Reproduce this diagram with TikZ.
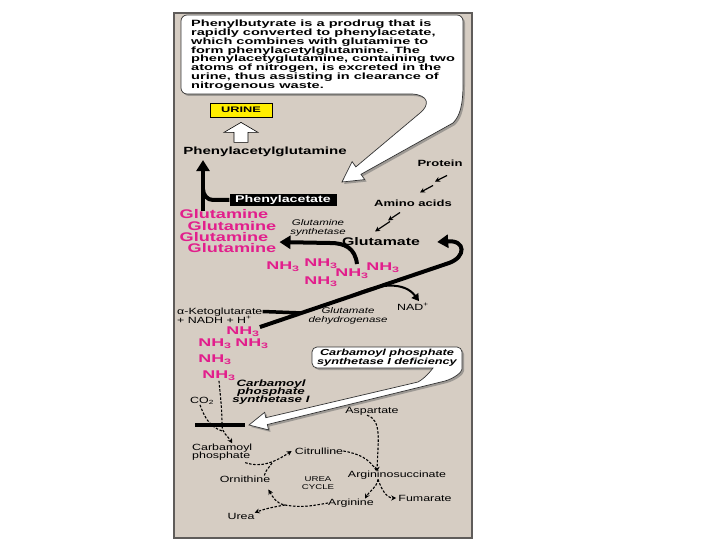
\documentclass[tikz,border=0pt]{standalone}
\usepackage{fontspec}
\setmainfont{Liberation Sans}
\newfontfamily\lippreg{Liberation Sans}[FakeStretch=1.38]
\newfontfamily\lippbold{Liberation Sans}[FakeStretch=1.45]
\newfontfamily\lippwide{Liberation Sans}[FakeStretch=1.6]
\usepackage{tikz}
\usetikzlibrary{
  arrows.meta,
  calc,
  positioning,
  shadows
}
\definecolor{paneltan}{RGB}{214,205,195}
\definecolor{panelline}{RGB}{95,92,90}
\definecolor{nhpink}{RGB}{226,30,140}
\definecolor{urineyellow}{RGB}{255,238,0}
\lineskiplimit=-20pt

\begin{document}
\begin{tikzpicture}[x=1pt, y=-1pt,
  txt/.style={font=\lippreg\fontsize{9}{8.5}\selectfont, inner sep=0pt, align=center},
  itxt/.style={font=\lippreg\itshape\fontsize{8.3}{8.3}\selectfont, inner sep=0pt, align=center},
  btxt/.style={font=\lippbold\bfseries\fontsize{9}{9}\selectfont, inner sep=0pt},
  bitxt/.style={font=\lippbold\bfseries\itshape\fontsize{9.2}{8.2}\selectfont, inner sep=0pt, align=center},
  gln/.style={font=\lippbold\bfseries\fontsize{12.5}{12.5}\selectfont, text=nhpink, inner sep=0pt},
  nh/.style={font=\lippwide\bfseries\fontsize{11.2}{11.2}\selectfont, text=nhpink, inner sep=0pt},
  heavy/.style={line width=4pt, -{Triangle[length=11pt,width=13pt]}},
  heavyline/.style={line width=4pt},
  medarr/.style={line width=2pt, -{Triangle[length=7pt,width=8pt]}},
  smallarr/.style={line width=1.2pt, -{Stealth[length=5pt,width=5pt]}},
  dashedarr/.style={line width=1.1pt, dash pattern=on 2.5pt off 1.6pt, -{Stealth[length=5pt,width=5pt]}},
  dashedline/.style={line width=1.1pt, dash pattern=on 2.5pt off 1.6pt},
  callout/.style={fill=white, draw=black!80, line width=0.7pt,
                  drop shadow={shadow xshift=2pt, shadow yshift=-2pt, opacity=0.5, fill=black!60}}
]

\useasboundingbox (0,0) rectangle (720,540);
\fill[white] (0,0) rectangle (720,540);
\draw[fill=paneltan, draw=panelline, line width=1.4pt] (174,13) rectangle (472,538);

% callout boxes
\draw[callout] (181,50) [rounded corners=6pt] -- (181,15) -- (463,15) -- (463,78) [sharp corners]
  .. controls (463,105) and (460,116) .. (453,123) -- (361,174.3) -- (364.7,179.6) -- (342,182)
  -- (352.1,161.6) -- (355.8,166.9) -- (420,113) .. controls (430,105) and (429,95) .. (412,94)
  [rounded corners=6pt] -- (181,94) -- cycle;
\draw[callout] (312,357) [rounded corners=5pt] -- (312,347) -- (462,347) -- (462,364) [sharp corners]
  .. controls (462,372) and (455,378) .. (445,381) -- (267.4,424.5) -- (268.5,429.9) -- (249,425)
  -- (264.7,412.3) -- (265.8,417.7) -- (418,382) .. controls (425,378) and (430,372) .. (433,368)
  [rounded corners=5pt] -- (312,368) -- cycle;

\node[anchor=north west, align=left, inner sep=0pt,
      font=\lippwide\bfseries\fontsize{9.1}{8.8}\selectfont] (note) at (191,20)
  {Phenylbutyrate is a prodrug that is\\
   rapidly converted to phenylacetate,\\
   which combines with glutamine to\\
   form phenylacetylglutamine. The\\
   phenylacetyglutamine, containing two\\
   atoms of nitrogen, is excreted in the\\
   urine, thus assisting in clearance of\\
   nitrogenous waste.};
\node[bitxt, font=\lippbold\bfseries\itshape\fontsize{8.8}{8.6}\selectfont] (cpsdef) at (387,358)
  {Carbamoyl phosphate\\synthetase I deficiency};

% upper pathway
\node[btxt, fill=urineyellow, draw=black, line width=0.8pt, minimum width=62pt, minimum height=14pt,
      font=\lippwide\bfseries\fontsize{8}{8}\selectfont] (urine) at (241,110) {URINE};
\draw[fill=white, draw=black, line width=0.6pt, shift={(urine.south)}]
  (-7,25) -- (-7,15) -- (-17,15) -- (0,5) -- (17,15) -- (7,15) -- (7,25) -- cycle;
\node[btxt, font=\lippbold\bfseries\fontsize{10.4}{10.4}\selectfont] (phgln) at (265,152) {Phenylacetylglutamine};
\node[btxt, fill=black, text=white, minimum width=107pt, minimum height=12.5pt,
      font=\lippbold\bfseries\fontsize{9.8}{9.8}\selectfont] (phacet) at (283,200) {Phenylacetate};
\node[gln] (gln1) at (224,214) {Glutamine};
\node[gln] (gln2) at (232,226) {Glutamine};
\node[gln] (gln3) at (224,237) {Glutamine};
\node[gln] (gln4) at (232,248) {Glutamine};
\node[itxt] (glnsyn) at (318,228) {Glutamine\\synthetase};
\node[btxt, font=\lippbold\bfseries\fontsize{11}{11}\selectfont] (glu) at (381,242) {Glutamate};
\node[btxt] (protein) at (440,163) {Protein};
\node[btxt] (amino) at (413,203) {Amino acids};

\foreach \n/\x/\y in {1/283/267, 2/321/264, 3/352/274, 4/383/268, 5/321/282,
                      6/243/332, 7/215/344, 8/252/344, 9/215/360, 10/219/376}
  \node[nh] (nh\n) at (\x,\y) {NH\textsubscript{3}};

\node[txt, anchor=west, align=left, font=\lippreg\fontsize{9}{9.4}\selectfont] (aketo) at (177,315.5)
  {α-Ketoglutarate\\+ NADH + H\textsuperscript{+}};
\node[itxt] (gdh) at (348,316) {Glutamate\\dehydrogenase};
\node[txt] (nad) at (413,307) {NAD\textsuperscript{+}};

% urea cycle
\node[bitxt] (cps) at (271,392) {Carbamoyl\\phosphate\\synthetase I};
\node[txt] (co2) at (202,401) {CO\textsubscript{2}};
\node[fill=black, minimum width=50pt, minimum height=4.5pt, inner sep=0pt] (block) at (220,425) {};
\node[txt, anchor=west, align=left] (carbp) at (192,452) {Carbamoyl\\phosphate};
\node[txt] (citr) at (319,451) {Citrulline};
\node[txt] (asp) at (372,411) {Aspartate};
\node[txt] (argsucc) at (397,475) {Argininosuccinate};
\node[txt] (orn) at (245,479) {Ornithine};
\node[txt, font=\lippreg\fontsize{7}{7.5}\selectfont] (ucycle) at (318,483) {UREA\\CYCLE};
\node[txt] (arg) at (351,503) {Arginine};
\node[txt] (fum) at (425,498) {Fumarate};
\node[txt] (urea) at (241,516) {Urea};

% heavy arrows
\coordinate (stem) at (203,211);
\coordinate (glnsrc) at (357,264);
\coordinate (hookbase) at (449,263);
\draw[heavy, shorten >=3pt] (stem) -- (stem |- phgln.south);
\draw[heavyline] (phacet.west) -- (213,200) to[out=180,in=-90] (203,189);
\draw[heavy, shorten >=3pt] (glnsrc) .. controls (355,248) and (345,243) .. (330,243) -- (gln4.east |- glu.west);
\draw[heavy] (nh6.north east) -- (hookbase) .. controls (466,257) and (466,240) .. ([xshift=17pt]glu.east);
\draw[heavyline, line width=3.5pt] ([yshift=4pt]aketo.east) -- ($(nh6.north east)!0.22!(hookbase)$);
\draw[medarr] ($(nh6.north east)!0.47!(hookbase)$) .. controls (380,282) and (405,282) .. ([xshift=6pt,yshift=2pt]nad.north);

% protein to glutamate
\draw[smallarr] ($(protein.south)+(7,9)$) -- ++(-12,6);
\draw[smallarr] ($(protein.south)+(-7,19)$) -- ++(-13,7);
\draw[smallarr] ($(amino.south)+(-13,6)$) -- ++(-12,8);
\draw[smallarr] ($(amino.south)+(-23,15)$) -- ++(-15,10);

% dashed cycle arrows
\coordinate (cpsjoin) at (222,425);
\coordinate (ornjoin) at (272,463);
\coordinate (argtop) at ([xshift=-20pt,yshift=-1pt]argsucc.north);
\coordinate (ureasplit) at (285,505);
\draw[dashedarr] (nh10.south) to[out=-85,in=90] (cpsjoin) to[out=-90,in=120] ([xshift=10pt]carbp.north);
\draw[dashedline] ([xshift=-2pt]co2.south) to[out=-70,in=160] ([yshift=-6pt]cpsjoin);
\draw[dashedarr] ($(carbp.south)+(23,2)$) .. controls (262,468) and (275,462) .. ([xshift=-3pt]citr.west);
\draw[dashedline] ([xshift=-6pt]orn.north east) to[out=80,in=-120] (ornjoin);
\draw[dashedline] (citr.east) to[out=-10,in=120] (argtop);
\draw[dashedarr] ([xshift=-5pt]asp.south) .. controls (382,420) and (378,440) .. (argtop);
\draw[dashedarr] ([xshift=-19pt]argsucc.south) to[out=-100,in=60] ([xshift=14pt]arg.north);
\draw[dashedarr] ([xshift=-19pt]argsucc.south) to[out=-70,in=180] ([xshift=-2pt]fum.west);
\draw[dashedarr] (arg.west) to[out=190,in=-10] (ureasplit) to[out=170,in=-60] ($(orn.south east)+(-2,7)$);
\draw[dashedarr] (ureasplit) to[out=190,in=20] (urea.north east);

\end{tikzpicture}
\end{document}
